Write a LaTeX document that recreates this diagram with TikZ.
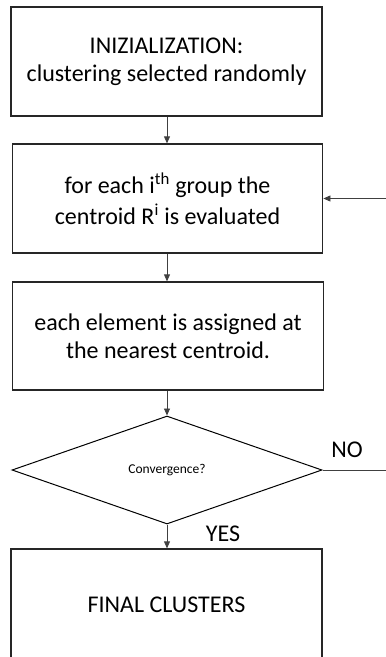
\documentclass[tikz,border=0pt]{standalone}
\usepackage{fontspec}
\setmainfont{Carlito}
\usetikzlibrary{arrows.meta,shapes.geometric}

\begin{document}
\begin{tikzpicture}[x=1pt,y=-1pt,
  txt/.style={font=\fontsize{24}{28}\selectfont, align=center},
  stepbox/.style={draw=black!85, line width=1.3pt, rectangle, inner sep=0pt, txt},
  decision/.style={draw=black, line width=1pt, diamond, inner sep=0pt,
    minimum width=310pt, minimum height=108pt, font=\fontsize{13.5}{16}\selectfont},
  flow/.style={draw=black!75, line width=0.8pt, -{Triangle[width=6pt,length=7pt]}},
  lbl/.style={font=\fontsize{24}{28}\selectfont, inner sep=0pt}
]
\path[use as bounding box, clip] (0,0) rectangle (386,657);

\node[stepbox, minimum width=311pt, minimum height=109pt] (init) at (166.5,61.5)
  {INIZIALIZATION:\\clustering selected randomly};
\node[stepbox, minimum width=310.5pt, minimum height=109pt] (centroid) at (167.5,198.5)
  {for each i\textsuperscript{th} group the\\[3pt]centroid R\textsuperscript{i} is evaluated};
\node[stepbox, minimum width=311pt, minimum height=108pt] (assign) at (168,336)
  {each element is assigned at\\the nearest centroid.};
\node[decision] (conv) at (167,470) {Convergence?};
\node[stepbox, minimum width=311pt, minimum height=112pt] (final) at (166.5,605)
  {FINAL CLUSTERS};

\node[lbl] (no) at (347,450) {NO};
\node[lbl] (yes) at (223,533.5) {YES};

\draw[flow] (init.south -| conv.north) -- (centroid.north -| conv.north);
\draw[flow] (centroid.south -| conv.north) -- (assign.north -| conv.north);
\draw[flow] (assign.south -| conv.north) -- (conv.north);
\draw[flow] (conv.south) -- (final.north -| conv.south);
\coordinate (loop) at (392,470);
\draw[flow] (conv.east) -- (loop) |- (centroid.east);
\end{tikzpicture}
\end{document}
